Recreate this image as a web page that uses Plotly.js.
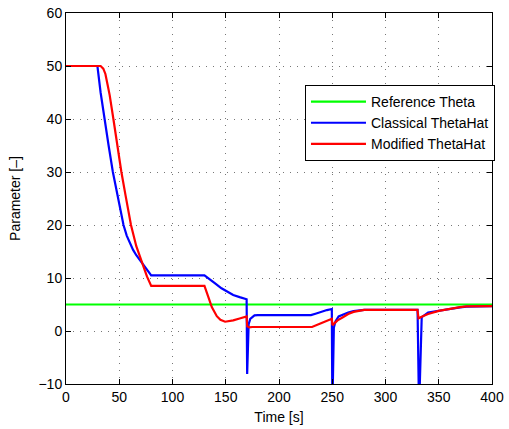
<!DOCTYPE html>
<html>
<head>
<meta charset="utf-8">
<script src="https://cdn.plot.ly/plotly-3.0.1.min.js"></script>
<style>html,body{margin:0;padding:0;background:#fff;}#chart{width:509px;height:429px;}</style>
</head>
<body>
<div id="chart"></div>
<script>
// Reference theta
var refT = [0, 400];
var refY = [5, 5];

// Classical ThetaHat
var clsT = [0, 29.5, 32.5, 36, 40, 44, 49, 54, 57, 60, 63, 66, 71, 76, 80,
  130, 135, 140, 146, 152, 157, 163, 169.6, 170.1, 171.5, 173, 175, 177, 180,
  230, 235, 240, 245, 249.6, 250.1, 251.5, 253, 256, 260, 265, 270, 275, 280,
  329.6, 330.1, 331.5, 334, 340, 350, 360, 370, 376, 400];
var clsY = [50, 50, 45, 40, 35, 30, 25, 20, 18, 16.5, 15.3, 14.3, 12.9, 11.4, 10.5,
  10.5, 9.8, 9, 8.05, 7.3, 6.8, 6.4, 6.0, -8.1, 1.3, 2.3, 2.7, 2.95, 3,
  3, 3.3, 3.65, 3.95, 4.15, -15, 0.6, 1.8, 2.75, 3.15, 3.5, 3.75, 3.9, 4, 4,
  4, -15, 2.6, 3.5, 3.85, 4.2, 4.45, 4.6, 4.7, 4.7];

// Modified ThetaHat
var modT = [0, 32.5, 35, 37, 39, 41, 44.5, 48, 52, 56, 61, 66, 71, 76, 80,
  130, 133.7, 136.9, 141.6, 145, 149.4, 157, 163, 169.6, 170.2, 172, 175, 180,
  231, 240, 249.6, 250.2, 255, 260, 265, 270, 275, 280,
  330, 331, 335, 340, 350, 360, 370, 376, 400];
var modY = [50, 50, 49.5, 48.5, 46.5, 44.5, 40, 35, 30, 25.5, 20, 16, 13, 10.3, 8.5,
  8.5, 6.4, 4.5, 2.8, 2.1, 1.75, 2.0, 2.35, 2.75, 0.9, 0.7, 0.75, 0.75,
  0.75, 1.5, 2.3, 1.1, 2.0, 2.6, 3.2, 3.6, 3.85, 4,
  4, 2.4, 2.8, 3.2, 3.8, 4.2, 4.5, 4.65, 4.7];

var xTicks = [0, 50, 100, 150, 200, 250, 300, 350, 400];
var yTicks = [-10, 0, 10, 20, 30, 40, 50, 60];

var fam = 'Liberation Sans, Arial, sans-serif';
var tickFont = {family: fam, size: 14, color: '#000'};
var titleFont = {family: fam, size: 14, color: '#000'};

var traces = [
  {x: refT, y: refY, mode: 'lines', name: 'Reference Theta', line: {color: '#00ff00', width: 2.2}},
  {x: clsT, y: clsY, mode: 'lines', name: 'Classical ThetaHat', line: {color: '#0000ff', width: 2.2}},
  {x: modT, y: modY, mode: 'lines', name: 'Modified ThetaHat', line: {color: '#ff0000', width: 2.2}}
];

var axisCommon = {
  showline: true, linecolor: '#000', linewidth: 1, mirror: 'ticks',
  ticks: 'inside', ticklen: 5, tickcolor: '#000',
  showgrid: true, gridcolor: '#777', griddash: '1px,6px', gridwidth: 1,
  zeroline: false, tickfont: tickFont
};

var layout = {
  width: 509, height: 429,
  margin: {l: 66, r: 17, t: 13, b: 45},
  paper_bgcolor: '#fff', plot_bgcolor: '#fff',
  font: tickFont,
  showlegend: true,
  legend: {
    x: 0.561, y: 0.806, xanchor: 'left', yanchor: 'top',
    bgcolor: '#fff', bordercolor: '#000', borderwidth: 1,
    font: {family: fam, size: 14, color: '#000'},
    itemwidth: 55,
    tracegroupgap: 0
  },
  xaxis: Object.assign({}, axisCommon, {
    range: [0, 400], tickvals: xTicks, ticktext: xTicks.map(String),
    title: {text: 'Time [s]', font: titleFont, standoff: 8}
  }),
  yaxis: Object.assign({}, axisCommon, {
    range: [-10, 60], tickvals: yTicks,
    title: {text: 'Parameter [–]', font: titleFont, standoff: 14}
  })
};

Plotly.newPlot('chart', traces, layout, {displayModeBar: false, staticPlot: true});
</script>
</body>
</html>
